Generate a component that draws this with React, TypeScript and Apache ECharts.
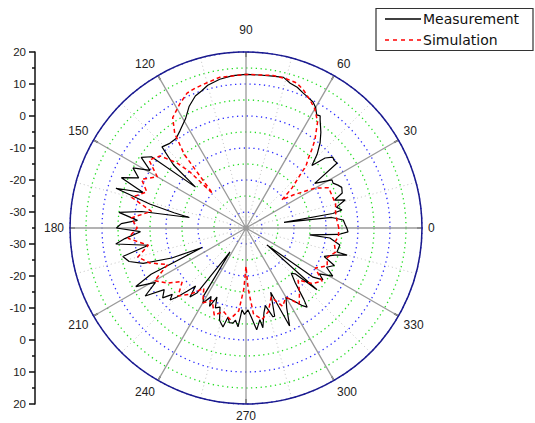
import React, { useEffect, useRef } from "react";
import * as echarts from "echarts";

// Angle (deg) / level (dB) pairs
const measAngles = [0, 2, 4.7, 7, 8.3, 9.5, 10.6, 13, 15.8, 17.5, 20, 23, 25, 27.3, 29.2, 33, 35.5, 37.5, 39.2, 41.5, 43.5, 46, 49, 52, 55.6, 56.5, 58, 60, 62, 65, 67, 70, 73, 76, 80, 85, 90, 95, 100, 105, 108, 111, 115, 119, 124, 128, 132, 136, 139, 141, 143, 146, 149, 152, 155, 158, 161, 163, 166, 168, 169.5, 171, 173, 176, 178, 180, 182, 185, 187, 190, 193, 196, 199, 202, 204, 206, 208, 211, 214, 217, 220, 222, 223.5, 225, 227, 229, 230.9, 233, 236.3, 238, 240.2, 243, 245, 247.2, 249, 251.8, 254, 256.9, 258.6, 260, 262.2, 263.5, 265.4, 267.2, 269, 271.4, 273.5, 276, 278.6, 279.6, 282, 284, 286.9, 288, 291, 294, 297, 300, 303, 306, 307.7, 309, 312, 315, 317, 319, 321, 323.8, 326, 328, 331, 334, 337, 340, 343, 345, 345.2, 349.7, 353.2, 353.8, 356, 357.8, 360];
const measValues = [-3.5, -4, -4.5, -8, -23, -7.5, -4.5, -6, -2.8, -6, -3, -2.5, -3.3, -4.4, -4.2, -9.4, 0, -0.3, 0, -2, -6.6, -3, 0.3, 3, 6, 7, 6.7, 8.5, 9.6, 10.3, 10.8, 11.8, 12.3, 13.5, 13.2, 13, 13, 12.8, 12.2, 11.2, 10, 9.2, 7, 4, 1.8, 0.5, 0.6, 1.5, -5, -14.7, 2, 4.5, 0, 5, 2, 7, -1, 7.5, -4, -12, -17, -2, 5, -1, 4, 5.5, -2, 3, 6, -4, 4.5, 3, -1, -10, -20, -2, 4, -2, 3, -3, -1, -4, -2.3, -4.5, -8, -11, -7.2, -9.7, -26, -10, -8, -11, -8, -11.6, -8.25, -9, -5, -3.25, -6.6, -5, -5, -6, -4, -9.4, -8, -9.4, -7, -3, -6, -3.4, -8, -10, -6, -6, -13.5, -1.5, -7, -10, -8, -5, -3.75, -6.3, -12, -15, -14, -5.6, -26.6, -9, -6, -8, -4, -7, -5, -9, -6, -2.3, -5.6, -5.2, -8.6, -15, -6, -3.1, -3.5];

const simAngles = [0, 5, 10, 15, 20, 26, 30, 35, 38, 41, 44, 46, 48, 50, 52, 56, 60, 63.4, 67, 70.6, 75, 80, 90, 100, 105, 110, 113.6, 118, 123.6, 127, 130, 132, 134, 135, 136.7, 140, 145, 150, 155, 160, 165, 170, 175, 180, 185, 190, 195, 200, 205, 210, 215, 220, 225, 230, 235, 240, 245, 250, 255, 260, 265, 268, 270, 272, 275, 280, 285, 290, 295, 300, 305, 310, 315, 320, 325, 330, 335, 340, 345, 350, 355, 360];
const simValues = [-6, -6.5, -6.6, -6, -6.25, -6.3, -10, -17, -20.75, -16, -12, -8, -6, -3, 0, 5, 8, 9.7, 11.5, 13, 13.3, 13.4, 13, 12.8, 12, 11.5, 11, 9, 6.4, 2, -5, -15, -20, -10.3, -5.3, 0, 2, -3, 1, -2, 2, -5, 1, -1, 2, -4, 0, -3, -8, -2, -5, -9, -5, -8, -12, -8, -10, -6, -8, -6, -9, -16, -23, -16, -8, -6, -8, -12, -8, -10, -6, -9, -12, -8, -6, -10, -7, -8, -6, -7, -6, -6];

const angleTicks = [0, 30, 60, 90, 120, 150, 180, 210, 240, 270, 300, 330];
const radiusMin = -35;
const radiusMax = 20;
const seriesNames = ["Measurement", "Simulation"];

const FONT = "'Liberation Sans', Arial, sans-serif";
const LEGEND_FONT = "'DejaVu Sans', Verdana, sans-serif";

export default function App() {
  const ref = useRef<HTMLDivElement>(null);
  useEffect(() => {
    if (!ref.current) return;
    const chart = echarts.init(ref.current, null, { renderer: "svg" });
    const meas = measAngles.map((a, i) => [measValues[i], a]);
    const sim = simAngles.map((a, i) => [simValues[i], a]);
    chart.setOption({
      animation: false,
      backgroundColor: "#ffffff",
      polar: { center: [246, 228], radius: 176 },
      angleAxis: {
        type: "value",
        min: 0,
        max: 360,
        interval: 30,
        startAngle: 0,
        clockwise: false,
        axisLine: { show: true, lineStyle: { color: "#1a1a8c", width: 1.5 } },
        axisTick: { show: true, inside: true, length: 5, lineStyle: { color: "#333", width: 1.5 } },
        axisLabel: {
          color: "#222",
          fontSize: 12,
          fontFamily: FONT,
          margin: 6,
          formatter: (v: number) => {
            if (angleTicks.indexOf(v) < 0) return "";
            if (v === 90) return "{up|90}";
            return String(v);
          },
          rich: { up: { fontSize: 12, fontFamily: FONT, color: "#222", padding: [0, 0, 10, 0] } },
        },
        splitLine: { show: true, lineStyle: { color: "#9a9a9a", width: 1.3, type: "solid" } },
        minorTick: { show: false, splitNumber: 2 },
        minorSplitLine: { show: true, lineStyle: { color: "#c4c4c4", width: 1, type: [1, 3] } },
      },
      radiusAxis: {
        type: "value",
        min: radiusMin,
        max: radiusMax,
        interval: 5,
        axisLine: { show: false },
        axisTick: { show: false },
        axisLabel: { show: false },
        splitLine: {
          show: true,
          lineStyle: { color: ["#22dd22", "#2a2aff"], width: 1.3, type: [1.3, 3.5] },
        },
      },
      grid: { left: 35, top: 52, height: 352, width: 1 },
      xAxis: { type: "value", show: false, gridIndex: 0 },
      yAxis: {
        type: "value",
        gridIndex: 0,
        min: 0,
        max: 110,
        interval: 10,
        position: "left",
        axisLine: { show: true, lineStyle: { color: "#111", width: 1.5 } },
        axisTick: { show: true, length: 6, lineStyle: { color: "#111", width: 1.5 } },
        minorTick: { show: true, splitNumber: 2, length: 3, lineStyle: { color: "#111", width: 1.5 } },
        splitLine: { show: false },
        axisLabel: {
          color: "#222",
          fontSize: 11.5,
          fontFamily: FONT,
          margin: 9,
          formatter: (v: number) => String(Math.abs(v - 55) + radiusMin),
        },
      },
      legend: { show: false },
      graphic: [
        {
          type: "rect",
          shape: { x: 376, y: 8.5, width: 157, height: 42 },
          style: { fill: "#fff", stroke: "#333", lineWidth: 1.2 },
          z: 10,
        },
        {
          type: "line",
          shape: { x1: 385, y1: 19, x2: 421, y2: 19 },
          style: { stroke: "#000", lineWidth: 1.3 },
          z: 11,
        },
        {
          type: "text",
          x: 423,
          y: 19,
          style: { text: seriesNames[0], font: `14px ${LEGEND_FONT}`, fill: "#111", verticalAlign: "middle", align: "left" },
          z: 11,
        },
        {
          type: "line",
          shape: { x1: 385, y1: 40, x2: 421, y2: 40 },
          style: { stroke: "#ff0000", lineWidth: 1.6, lineDash: [4, 4] },
          z: 11,
        },
        {
          type: "text",
          x: 423,
          y: 40,
          style: { text: seriesNames[1], font: `14px ${LEGEND_FONT}`, fill: "#111", verticalAlign: "middle", align: "left" },
          z: 11,
        },
      ],
      series: [
        {
          name: seriesNames[0],
          type: "line",
          coordinateSystem: "polar",
          polarIndex: 0,
          showSymbol: false,
          symbol: "none",
          data: meas,
          lineStyle: { color: "#000", width: 1.2 },
          itemStyle: { color: "#000" },
          z: 3,
        },
        {
          name: seriesNames[1],
          type: "line",
          coordinateSystem: "polar",
          polarIndex: 0,
          showSymbol: false,
          symbol: "none",
          data: sim,
          lineStyle: { color: "#ff0000", width: 1.5, type: [4, 3] },
          itemStyle: { color: "#ff0000" },
          z: 4,
        },
      ],
    });
    return () => chart.dispose();
  }, []);
  return (
    <div
      ref={ref}
      style={{ position: "fixed", left: 0, top: 0, width: 535, height: 423, background: "#fff" }}
    />
  );
}
